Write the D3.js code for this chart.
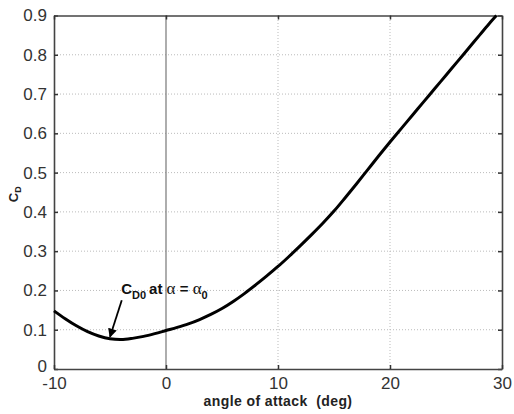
<!DOCTYPE html>
<html>
<head>
<meta charset="utf-8">
<script src="https://cdn.jsdelivr.net/npm/d3@7"></script>
<style>
body{margin:0;background:#fff;}
text{font-family:"Liberation Sans",Arial,sans-serif;}
</style>
</head>
<body>
<div id="chart"></div>
<script>
var w=514, h=414
var pad={top:15.5, bottom:45, left:54, right:12};

//Curve
var alpha=[-10,-9,-8,-7,-6,-5,-4,-3,-2,-1,0,1,2,3,4,5,6,7,8,9,10,11,12,13,14,15,16,17,18,19,20,21,22,23,24,25,26,27,28,29,29.5];
var cd=[0.148,0.128,0.110,0.095,0.084,0.077,0.075,0.078,0.083,0.090,0.098,0.106,0.115,0.126,0.139,0.154,0.172,0.192,0.214,0.237,0.261,0.287,0.314,0.342,0.371,0.402,0.436,0.471,0.507,0.543,0.578,0.612,0.646,0.680,0.714,0.748,0.782,0.816,0.850,0.884,0.900];
var xTicks=[-10,0,10,20,30];
var yTicks=[0,0.1,0.2,0.3,0.4,0.5,0.6,0.7,0.8,0.9];

var svg=d3.select("#chart").append("svg").attr("width",w).attr("height",h);

var x=d3.scaleLinear().domain([-10,30]).range([pad.left,w-pad.right]);
var y=d3.scaleLinear().domain([0,0.9]).range([h-pad.bottom,pad.top]);

//Dotted grid
svg.append("g").selectAll("line").data(yTicks.slice(1,-1)).enter().append("line")
   .attr("x1",x(-10)).attr("x2",x(30))
   .attr("y1",function(d){return y(d);}).attr("y2",function(d){return y(d);})
   .attr("stroke","#bbb").attr("stroke-width",1).attr("stroke-dasharray","1,2");
svg.append("g").selectAll("line").data([10,20]).enter().append("line")
   .attr("x1",function(d){return x(d);}).attr("x2",function(d){return x(d);})
   .attr("y1",y(0)).attr("y2",y(0.9))
   .attr("stroke","#bbb").attr("stroke-width",1).attr("stroke-dasharray","1,2");
//Solid line at zero
svg.append("line").attr("x1",x(0)).attr("x2",x(0)).attr("y1",y(0)).attr("y2",y(0.9))
   .attr("stroke","#777").attr("stroke-width",1.2);

//Axes with inward ticks on all sides
var fmt=function(d){return d==0?"0":d3.format(".1f")(d);};
var ax=[
  {g:d3.axisLeft(y).tickValues(yTicks).tickFormat(fmt), t:"translate("+pad.left+",0)", p:7},
  {g:d3.axisRight(y).tickValues(yTicks).tickFormat(""), t:"translate("+(w-pad.right)+",0)", p:7},
  {g:d3.axisBottom(x).tickValues(xTicks).tickFormat(function(d){return String(d);}), t:"translate(0,"+(h-pad.bottom)+")", p:8},
  {g:d3.axisTop(x).tickValues(xTicks).tickFormat(""), t:"translate(0,"+pad.top+")", p:7}
];
ax.forEach(function(a){
  var g=svg.append("g").attr("transform",a.t).call(a.g.tickSizeInner(-4).tickSizeOuter(0).tickPadding(a.p));
  g.select(".domain").attr("stroke","#444").attr("stroke-width",1.6);
  g.selectAll(".tick line").attr("stroke","#333").attr("stroke-width",1.5);
  g.selectAll(".tick text").attr("font-size","17px").attr("fill","#333")
   .style("font-family","'Liberation Sans',Arial,sans-serif");
});
//lift the y "0" a touch so it clears "-10"
svg.selectAll(".tick text").filter(function(d){return d===0 && this.textContent==="0" && +d3.select(this).attr("x")<0;})
   .attr("dy","0.15em");

//Curve
var line=d3.line().x(function(d,i){return x(alpha[i]);}).y(function(d){return y(d);}).curve(d3.curveCatmullRom);
svg.append("path").datum(cd).attr("d",line).attr("fill","none").attr("stroke","#000").attr("stroke-width",3);

//Annotation
svg.append("defs").append("marker").attr("id","arr").attr("viewBox","0 0 10 10")
   .attr("refX",9).attr("refY",5).attr("markerWidth",5).attr("markerHeight",6).attr("orient","auto")
   .append("path").attr("d","M0,0L10,5L0,10z").attr("fill","#000");
svg.append("line").attr("x1",x(-3.95)).attr("y1",y(0.175)).attr("x2",x(-5)).attr("y2",y(0.082))
   .attr("stroke","#000").attr("stroke-width",1.8).attr("marker-end","url(#arr)");
var note=svg.append("text").attr("x",x(-4.0)).attr("y",y(0.19)).attr("font-size","15px").attr("font-weight","bold").attr("fill","#111");
note.append("tspan").text("C");
note.append("tspan").attr("font-size","11px").attr("dy",5).text("D0");
note.append("tspan").attr("dy",-5).attr("dx",3).attr("font-size","15px").text("at ");
note.append("tspan").attr("font-family","'Liberation Serif',serif").attr("font-weight","normal").attr("font-size","17px").text("\u03b1");
note.append("tspan").attr("font-size","15px").text(" = ");
note.append("tspan").attr("font-family","'Liberation Serif',serif").attr("font-weight","normal").attr("font-size","17px").text("\u03b1");
note.append("tspan").attr("font-size","11px").attr("dy",5).text("0");

//Axis labels
svg.append("text").attr("x",(x(-10)+x(30))/2).attr("y",h-8).attr("text-anchor","middle")
   .attr("font-size","14px").attr("font-weight","bold").attr("fill","#222").attr("letter-spacing","0.4px")
   .attr("xml:space","preserve").style("white-space","pre").text("angle of attack  (deg)");
var yl=svg.append("text").attr("transform","translate(18,"+((y(0)+y(0.9))/2+2)+")rotate(-90)")
   .attr("text-anchor","middle").attr("font-size","13px").attr("font-weight","bold").attr("fill","#222");
yl.append("tspan").text("C");
yl.append("tspan").attr("font-size","9px").attr("dy",3).text("D");
</script>
</body>
</html>
